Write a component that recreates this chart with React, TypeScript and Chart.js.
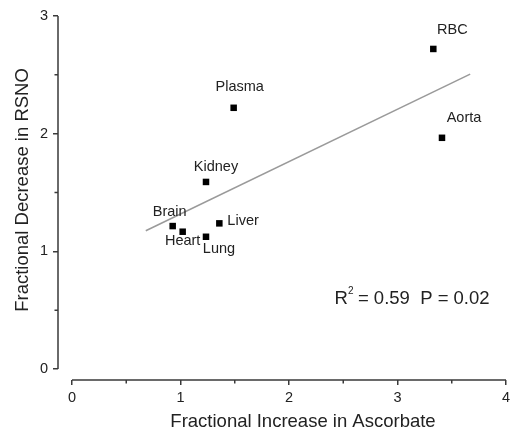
import React, { useEffect, useRef } from "react";
import { Chart, registerables } from "chart.js";

Chart.register(...registerables);

const tissues = ["RBC", "Aorta", "Plasma", "Kidney", "Brain", "Liver", "Heart", "Lung"];
const ascorbateIncrease = [3.33, 3.41, 1.49, 1.235, 0.928, 1.358, 1.02, 1.235];
const rsnoDecrease = [2.72, 1.965, 2.22, 1.59, 1.215, 1.238, 1.167, 1.124];
const fitX = [0.68, 3.67];
const fitY = [1.175, 2.506];
const xTicks = [0, 1, 2, 3, 4];
const yTicks = [0, 1, 2, 3];
const xMinorTicks = [0.5, 1.5, 2.5, 3.5];
const yMinorTicks = [0.5, 1.5, 2.5];
const statsText = { r2: "0.59", p: "0.02" };

// label placement relative to each point (dx, dy, align)
const labelOffsets: Record<string, [number, number, CanvasTextAlign]> = {
  RBC: [19, -19, "center"],
  Aorta: [22, -20, "center"],
  Plasma: [6, -21, "center"],
  Kidney: [10, -15, "center"],
  Brain: [-3, -14, "center"],
  Liver: [8, -2, "left"],
  Heart: [0, 9, "center"],
  Lung: [13, 12, "center"],
};

const FONT = "'Liberation Sans', Arial, Helvetica, sans-serif";
const AXIS_COLOR = "#3a3a3a";
const TEXT_COLOR = "#222";

export default function App() {
  const ref = useRef<HTMLCanvasElement | null>(null);

  useEffect(() => {
    if (!ref.current) return;
    const decorPlugin = {
      id: "decor",
      afterDraw(chart: any) {
        const ctx = chart.ctx as CanvasRenderingContext2D;
        const xs = chart.scales.x;
        const ys = chart.scales.y;
        const area = chart.chartArea;
        ctx.save();
        // axis lines
        ctx.strokeStyle = AXIS_COLOR;
        ctx.lineWidth = 1.5;
        ctx.beginPath();
        ctx.moveTo(area.left, ys.getPixelForValue(0));
        ctx.lineTo(area.left, ys.getPixelForValue(3));
        ctx.moveTo(xs.getPixelForValue(0), area.bottom);
        ctx.lineTo(xs.getPixelForValue(4), area.bottom);
        // minor ticks
        yMinorTicks.forEach((v) => {
          const py = ys.getPixelForValue(v);
          ctx.moveTo(area.left, py);
          ctx.lineTo(area.left - 3.5, py);
        });
        xMinorTicks.forEach((v) => {
          const px = xs.getPixelForValue(v);
          ctx.moveTo(px, area.bottom);
          ctx.lineTo(px, area.bottom + 3.5);
        });
        ctx.stroke();

        // point labels
        ctx.fillStyle = TEXT_COLOR;
        ctx.font = `14.5px ${FONT}`;
        ctx.textBaseline = "middle";
        tissues.forEach((name, i) => {
          const [dx, dy, align] = labelOffsets[name];
          const px = xs.getPixelForValue(ascorbateIncrease[i]);
          const py = ys.getPixelForValue(rsnoDecrease[i]);
          ctx.textAlign = align;
          ctx.fillText(name, px + dx, py + dy);
        });

        // stats annotation
        const sx = xs.getPixelForValue(2.42);
        const sy = ys.getPixelForValue(0.6);
        ctx.font = `18.5px ${FONT}`;
        ctx.textAlign = "left";
        ctx.fillText("R", sx, sy);
        const rw = ctx.measureText("R").width;
        ctx.font = `10px ${FONT}`;
        ctx.fillText("2", sx + rw, sy - 7);
        ctx.font = `18.5px ${FONT}`;
        ctx.fillText(`= ${statsText.r2}  P = ${statsText.p}`, sx + rw + 10, sy);

        // axis titles
        ctx.font = `18.5px ${FONT}`;
        ctx.textAlign = "center";
        ctx.fillText("Fractional Increase in Ascorbate", 303, 422);
        ctx.translate(23, 190);
        ctx.rotate(-Math.PI / 2);
        ctx.fillText("Fractional Decrease in RSNO", 0, 0);
        ctx.restore();
      },
    };

    const chart = new Chart(ref.current, {
      type: "scatter",
      data: {
        datasets: [
          {
            type: "line",
            label: "fit",
            data: fitX.map((x, i) => ({ x, y: fitY[i] })),
            borderColor: "#9a9a9a",
            borderWidth: 1.5,
            pointRadius: 0,
            fill: false,
          } as any,
          {
            label: "tissues",
            data: ascorbateIncrease.map((x, i) => ({ x, y: rsnoDecrease[i] })),
            pointStyle: "rect",
            pointRadius: 4.6,
            pointBorderWidth: 0,
            backgroundColor: "#000",
            borderColor: "#000",
          },
        ],
      },
      options: {
        responsive: false,
        animation: false,
        layout: { padding: { top: 16, right: 1, left: 0, bottom: 0 } },
        plugins: {
          legend: { display: false },
          tooltip: { enabled: false },
        },
        scales: {
          x: {
            type: "linear",
            min: -0.129,
            max: 4,
            border: { display: false },
            grid: {
              display: true,
              drawOnChartArea: false,
              drawTicks: true,
              tickLength: 5,
              color: AXIS_COLOR,
              lineWidth: 1.5,
            },
            ticks: {
              color: TEXT_COLOR,
              font: { family: FONT, size: 14.5 },
              padding: 4,
              maxRotation: 0,
            },
            afterBuildTicks: (scale: any) => {
              scale.ticks = xTicks.map((v) => ({ value: v }));
            },
            afterFit: (scale: any) => {
              scale.height = 53;
              scale.paddingRight = 5;
            },
          },
          y: {
            type: "linear",
            min: -0.093,
            max: 3,
            border: { display: false },
            grid: {
              display: true,
              drawOnChartArea: false,
              drawTicks: true,
              tickLength: 5,
              color: AXIS_COLOR,
              lineWidth: 1.5,
            },
            ticks: {
              color: TEXT_COLOR,
              font: { family: FONT, size: 14.5 },
              padding: 5,
            },
            afterBuildTicks: (scale: any) => {
              scale.ticks = yTicks.map((v) => ({ value: v }));
            },
            afterFit: (scale: any) => {
              scale.width = 58;
            },
          },
        },
      },
      plugins: [decorPlugin],
    });
    return () => chart.destroy();
  }, []);

  return (
    <div style={{ position: "absolute", left: 0, top: 0, width: 511, height: 433, background: "#fff" }}>
      <canvas ref={ref} width={511} height={433} style={{ display: "block" }} />
    </div>
  );
}
